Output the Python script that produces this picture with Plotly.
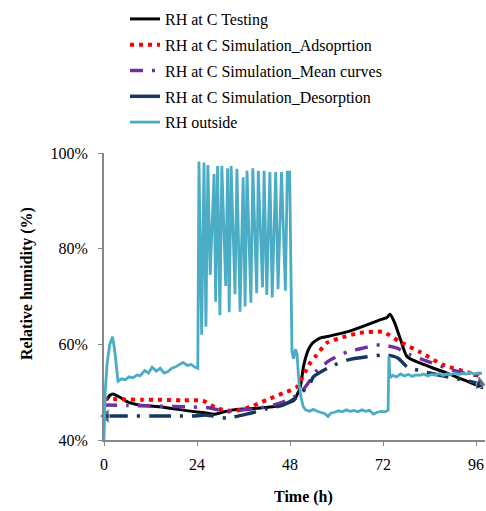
import plotly.graph_objects as go

# ---- data ----
t_test = [0.7, 1.5, 2.3, 3.5, 5.0, 6.2, 9.0, 12.0, 15.0, 19.0, 23.5, 26.0, 28.6, 31.0, 33.3, 36.5, 40.3, 44.0, 47.2, 49.0, 50.6, 51.5, 52.4, 53.2, 54.0, 55.7, 58.0, 62.7, 67.0, 71.2, 73.0, 73.8, 75.0, 76.5, 78.2, 81.5, 85.0, 88.5, 93.0, 97.8]
rh_test = [48.4, 49.3, 49.6, 49.2, 48.5, 47.9, 47.3, 47.1, 46.9, 46.4, 45.9, 45.7, 45.4, 45.9, 46.3, 46.5, 46.7, 47.0, 47.7, 48.3, 51.0, 55.5, 58.2, 59.6, 60.4, 61.3, 61.7, 62.6, 63.8, 65.1, 65.6, 66.3, 64.5, 61.0, 57.4, 56.1, 55.0, 54.0, 52.5, 50.9]

t_ads = [0.0, 5.0, 10.0, 15.0, 20.0, 25.5, 29.5, 33.8, 37.7, 42.0, 46.2, 49.8, 51.9, 53.2, 54.5, 57.5, 61.7, 66.0, 72.0, 76.4, 81.5, 87.5, 94.5, 97.5]
rh_ads = [48.6, 48.5, 48.4, 48.4, 48.3, 48.2, 46.5, 46.1, 46.9, 48.4, 49.8, 51.1, 54.2, 56.1, 57.4, 60.3, 61.5, 62.4, 62.6, 60.5, 58.4, 55.7, 54.0, 53.2]

t_mean = [0.0, 6.0, 12.0, 18.0, 23.0, 27.4, 31.7, 35.9, 40.3, 45.4, 50.6, 53.2, 55.0, 58.3, 62.7, 66.8, 71.2, 75.6, 79.0, 84.0, 90.0, 95.2, 97.5]
rh_mean = [47.3, 47.2, 47.1, 47.0, 46.9, 46.7, 45.9, 46.3, 46.7, 47.7, 49.8, 52.5, 54.6, 56.7, 58.4, 59.2, 59.9, 59.2, 57.8, 56.3, 54.6, 53.6, 53.4]

t_des = [0.5, 6.0, 12.0, 18.0, 22.7, 26.5, 31.7, 37.7, 42.0, 46.2, 49.8, 53.2, 54.0, 58.3, 62.7, 67.9, 73.0, 75.9, 78.2, 84.0, 90.0, 95.2, 97.0]
rh_des = [45.0, 45.0, 45.0, 45.0, 45.0, 45.2, 44.6, 45.6, 46.5, 47.3, 49.0, 51.9, 53.2, 55.3, 56.7, 57.4, 57.8, 57.1, 55.3, 54.0, 53.0, 52.1, 51.8]

t_out = [0.0, 0.3, 0.8, 1.5, 2.2, 2.8, 3.6, 4.5, 5.5, 6.5, 7.5, 8.5, 9.3, 10.5, 11.5, 12.4, 13.5, 14.5, 15.5, 16.5, 17.5, 18.5, 19.5, 20.4, 21.5, 22.5, 23.5, 24.2,
         24.5, 25.2, 25.8, 26.3, 26.8, 27.4, 28.4, 28.8, 29.3, 29.9, 30.4, 31.4, 31.9, 32.3, 32.8, 33.8, 34.3, 35.1, 35.9, 36.4, 36.9, 37.9, 38.4, 39.4, 39.8, 40.9, 41.3, 42.0, 42.8, 43.4, 44.3, 44.9, 45.8, 46.8, 47.3, 47.9,
         48.5, 48.9, 49.4, 49.8, 50.3, 50.8, 51.4, 52.0, 53.0, 54.0, 55.0, 56.0, 57.0, 57.8, 58.5, 59.5, 60.5, 61.5, 62.5, 63.5, 64.5, 65.5, 66.5, 67.5, 68.5, 69.5, 70.5, 71.5, 72.5, 73.3,
         73.5, 73.8, 74.5, 75.5, 76.5, 77.5, 78.5, 79.5, 80.5, 81.5, 82.5, 83.5, 84.5, 85.5, 86.5, 87.5, 88.5, 89.5, 90.5, 91.5, 92.5, 93.5, 94.5, 95.5, 96.5, 97.5]
rh_out = [40.0, 50.0, 56.0, 60.0, 61.6, 58.5, 52.3, 52.8, 52.6, 53.2, 53.0, 53.6, 53.4, 54.5, 54.0, 55.2, 54.4, 55.0, 54.0, 54.3, 55.0, 55.3, 55.8, 56.2, 55.6, 55.8, 55.2, 55.0,
          98.2, 62.0, 98.0, 63.7, 97.5, 74.5, 95.6, 68.9, 97.3, 66.1, 97.3, 72.2, 96.8, 66.7, 97.3, 70.5, 96.7, 66.8, 94.9, 67.9, 96.3, 68.7, 96.8, 70.7, 96.3, 71.9, 96.3, 70.3, 96.0, 69.8, 96.0, 71.5, 96.0, 71.2, 96.0, 96.0,
          58.5, 57.0, 59.0, 58.0, 52.0, 49.0, 47.0, 46.3, 46.0, 46.4, 46.0, 45.8, 45.5, 44.9, 45.6, 45.8, 46.1, 45.9, 46.3, 46.0, 46.2, 45.9, 46.3, 46.0, 46.2, 45.4, 45.8, 46.0, 45.9, 46.2,
          57.5, 53.0, 53.5, 53.2, 53.8, 53.4, 53.7, 53.3, 53.6, 53.5, 53.8, 53.4, 53.7, 53.6, 53.9, 53.5, 53.8, 53.7, 54.0, 53.7, 53.9, 53.8, 54.1, 53.8, 54.0, 53.9]

x_ticks = [0, 24, 48, 72, 96]
y_ticks = [40, 60, 80, 100]

names = ["RH at C Testing", "RH at C Simulation_Adsoprtion", "RH at C Simulation_Mean curves",
         "RH at C Simulation_Desorption", "RH outside"]
x_title = "Time (h)"
y_title = "Relative humidity (%)"

FONT = "Liberation Serif"
fig = go.Figure()

fig.add_trace(go.Scatter(x=t_test, y=rh_test, mode="lines", name=names[0], legendgroup="a",
                         line=dict(color="#000000", width=3, shape="spline", smoothing=0.6)))
fig.add_trace(go.Scatter(x=t_ads, y=rh_ads, mode="lines", name=names[1], legendgroup="b",
                         line=dict(color="#FF0000", width=4, dash="4px,5px", shape="spline", smoothing=0.6)))
fig.add_trace(go.Scatter(x=t_mean, y=rh_mean, mode="lines", name=names[2], legendgroup="c",
                         line=dict(color="#7030A0", width=3.5, dash="13px,9px,3px,9px", shape="spline", smoothing=0.6)))
n = len(t_des)
fig.add_trace(go.Scatter(x=t_des, y=rh_des, mode="lines+markers", name=names[3], legendgroup="d",
                         showlegend=False, cliponaxis=False,
                         line=dict(color="#17375E", width=3.5, dash="22px,9px,3px,9px", shape="spline", smoothing=0.6),
                         marker=dict(color="#17375E",
                                     symbol=["triangle-left"] + ["circle"] * (n - 2) + ["triangle-right"],
                                     size=[13] + [0] * (n - 2) + [13],
                                     angle=[0] * (n - 1) + [15])))
fig.add_trace(go.Scatter(x=[None], y=[None], mode="lines", name=names[3], legendgroup="d",
                         line=dict(color="#17375E", width=3.5)))
fig.add_trace(go.Scatter(x=t_out, y=rh_out, mode="lines", name=names[4], legendgroup="e",
                         line=dict(color="#4BACC6", width=2.8)))

fig.update_layout(
    width=486, height=511,
    margin=dict(l=104, r=1, t=153, b=71, autoexpand=False),
    paper_bgcolor="white", plot_bgcolor="white",
    font=dict(family=FONT, size=16, color="black"),
    showlegend=True,
    legend=dict(xref="container", yref="container", x=125 / 486, y=1 - 2 / 511,
                xanchor="left", yanchor="top", traceorder="grouped", tracegroupgap=2,
                font=dict(family=FONT, size=16, color="black"), bgcolor="rgba(0,0,0,0)"),
    xaxis=dict(range=[0, 98.3], tickvals=x_ticks, ticktext=[str(v) for v in x_ticks],
               showgrid=False, zeroline=False, showline=True, linecolor="#868686", linewidth=2,
               ticks="outside", ticklen=4, tickcolor="#868686", tickwidth=1,
               tickfont=dict(family=FONT, size=16), automargin=False, ticklabelstandoff=5),
    yaxis=dict(range=[40, 100], tickvals=y_ticks, ticktext=[f"{v}%" for v in y_ticks],
               showgrid=False, zeroline=False, showline=True, linecolor="#868686", linewidth=2,
               ticks="outside", ticklen=4, tickcolor="#868686", tickwidth=1,
               tickfont=dict(family=FONT, size=16), automargin=False, ticklabelstandoff=7),
    annotations=[
        dict(text=f"<b>{x_title}</b>", xref="paper", yref="paper", x=(303 - 104) / 381, y=(440 - 497) / 287,
             xanchor="center", yanchor="middle", showarrow=False, font=dict(family=FONT, size=16)),
        dict(text=f"<b>{y_title}</b>", xref="paper", yref="paper", x=(27 - 104) / 381, y=(440 - 284) / 287,
             xanchor="center", yanchor="middle", textangle=-90, showarrow=False, font=dict(family=FONT, size=16)),
    ],
)

fig.write_html("out.html")
